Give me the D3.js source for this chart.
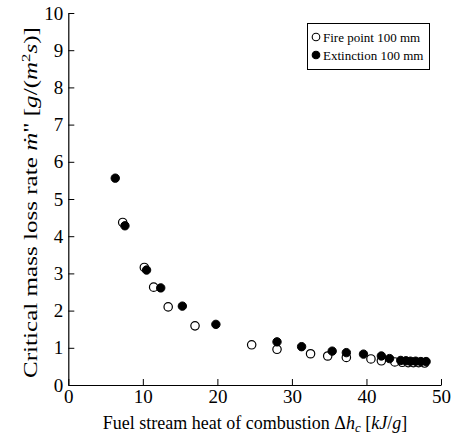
<!DOCTYPE html>
<html>
<head>
<meta charset="utf-8">
<script src="https://cdn.jsdelivr.net/npm/d3@7"></script>
<style>
  html, body { margin: 0; padding: 0; background: #fff; }
</style>
</head>
<body>
<svg id="chart" width="455" height="437"></svg>
<script>
// Fire point measurements (open circles)
const fireX = [7.3, 10.2, 11.45, 13.4, 17.0, 24.6, 28.0, 32.5, 34.8, 37.3, 40.6, 42.0, 43.8, 44.8, 45.6, 46.3, 47.0, 47.8];
const fireY = [4.37, 3.16, 2.63, 2.10, 1.59, 1.08, 0.96, 0.84, 0.78, 0.74, 0.70, 0.65, 0.62, 0.61, 0.60, 0.60, 0.60, 0.59];
// Extinction measurements (filled circles)
const extX = [6.3, 7.6, 10.5, 12.4, 15.3, 19.8, 28.0, 31.3, 35.4, 37.3, 39.6, 42.0, 43.1, 44.6, 45.3, 45.9, 46.6, 47.3, 48.0];
const extY = [5.56, 4.28, 3.09, 2.61, 2.12, 1.63, 1.16, 1.03, 0.91, 0.87, 0.83, 0.78, 0.71, 0.66, 0.65, 0.64, 0.64, 0.63, 0.63];
const xTicks = [0, 10, 20, 30, 40, 50];
const yTicks = [0, 1, 2, 3, 4, 5, 6, 7, 8, 9, 10];
const seriesNames = ["Fire point 100 mm", "Extinction 100 mm"];

const FONT = "Liberation Serif";
const svg = d3.select("#chart");
const plotLeft = 68.3, plotRight = 441, plotTop = 13, plotBottom = 385;

const x = d3.scaleLinear().domain([0, 50]).range([plotLeft, plotRight]);
const y = d3.scaleLinear().domain([0, 10]).range([plotBottom, plotTop]);

// Axes with inward ticks
const xAxis = d3.axisBottom(x).tickValues(xTicks).tickSize(-6).tickPadding(10).tickSizeOuter(0);
const yAxis = d3.axisLeft(y).tickValues(yTicks).tickSize(-6).tickPadding(10).tickSizeOuter(0);

const gx = svg.append("g").attr("transform", `translate(0,${plotBottom})`).call(xAxis);
const gy = svg.append("g").attr("transform", `translate(${plotLeft},0)`).call(yAxis);
[gx, gy].forEach(g => {
  g.attr("font-family", FONT);
  g.select(".domain").attr("stroke", "#000").attr("stroke-width", 1.2);
  g.selectAll(".tick line").attr("stroke", "#000").attr("stroke-width", 1);
  g.selectAll(".tick text")
    .style("font-family", FONT)
    .style("font-size", "19px")
    .attr("fill", "#000");
});
gy.selectAll(".tick text").attr("x", -5);
gx.selectAll(".tick text").attr("y", 5).attr("dy", "0.71em");

// Data points
const fire = fireX.map((v, i) => ({ x: v, y: fireY[i] }));
const ext = extX.map((v, i) => ({ x: v, y: extY[i] }));
const r = 4.2;

svg.append("g").selectAll("circle").data(fire).join("circle")
  .attr("cx", d => x(d.x)).attr("cy", d => y(d.y)).attr("r", r)
  .attr("fill", "#fff").attr("stroke", "#000").attr("stroke-width", 1.2);

svg.append("g").selectAll("circle").data(ext).join("circle")
  .attr("cx", d => x(d.x)).attr("cy", d => y(d.y)).attr("r", r)
  .attr("fill", "#000").attr("stroke", "#000").attr("stroke-width", 1);

// Legend
const lg = svg.append("g");
lg.append("rect").attr("x", 307.5).attr("y", 23.5).attr("width", 122).attr("height", 46)
  .attr("fill", "#fff").attr("stroke", "#000").attr("stroke-width", 1);
[0, 1].forEach(i => {
  const cy = 37 + i * 18;
  lg.append("circle").attr("cx", 316).attr("cy", cy).attr("r", 3.8)
    .attr("fill", i === 0 ? "#fff" : "#000").attr("stroke", "#000").attr("stroke-width", 1.1);
  lg.append("text").attr("x", 323).attr("y", cy).attr("dy", "0.35em")
    .style("font-family", FONT).style("font-size", "13px").attr("fill", "#000")
    .text(seriesNames[i]);
});

// X axis title
const xt = svg.append("text").attr("x", 255).attr("y", 429)
  .attr("text-anchor", "middle").style("font-family", FONT).style("font-size", "18px").attr("fill", "#000");
xt.append("tspan").text("Fuel stream heat of combustion Δ");
xt.append("tspan").attr("font-style", "italic").text("h");
xt.append("tspan").attr("font-style", "italic").attr("font-size", "13px").attr("dy", 3).text("c");
xt.append("tspan").attr("dy", -3).text(" [");
xt.append("tspan").attr("font-style", "italic").text("kJ");
xt.append("tspan").text("/");
xt.append("tspan").attr("font-style", "italic").text("g");
xt.append("tspan").text("]");

// Y axis title, drawn elongated along its reading direction
const ytG = svg.append("g");
const yt = ytG.append("text")
  .attr("text-anchor", "middle").style("font-family", FONT).style("font-size", "18px").attr("fill", "#000");
yt.append("tspan").text("Critical mass loss rate ");
yt.append("tspan").attr("font-style", "italic").text("ṁ");
yt.append("tspan").text("\" [");
yt.append("tspan").attr("font-style", "italic").text("g");
yt.append("tspan").text("/(");
yt.append("tspan").attr("font-style", "italic").text("m");
yt.append("tspan").attr("font-size", "12px").attr("dy", -7).text("2");
yt.append("tspan").attr("font-style", "italic").attr("dy", 7).text("s");
yt.append("tspan").text(")]");
const ytLen = yt.node().getComputedTextLength() || 260;
const ytStretch = 351 / ytLen;
ytG.attr("transform", `translate(37,202.5) rotate(-90) scale(${ytStretch},1)`);
</script>
</body>
</html>
